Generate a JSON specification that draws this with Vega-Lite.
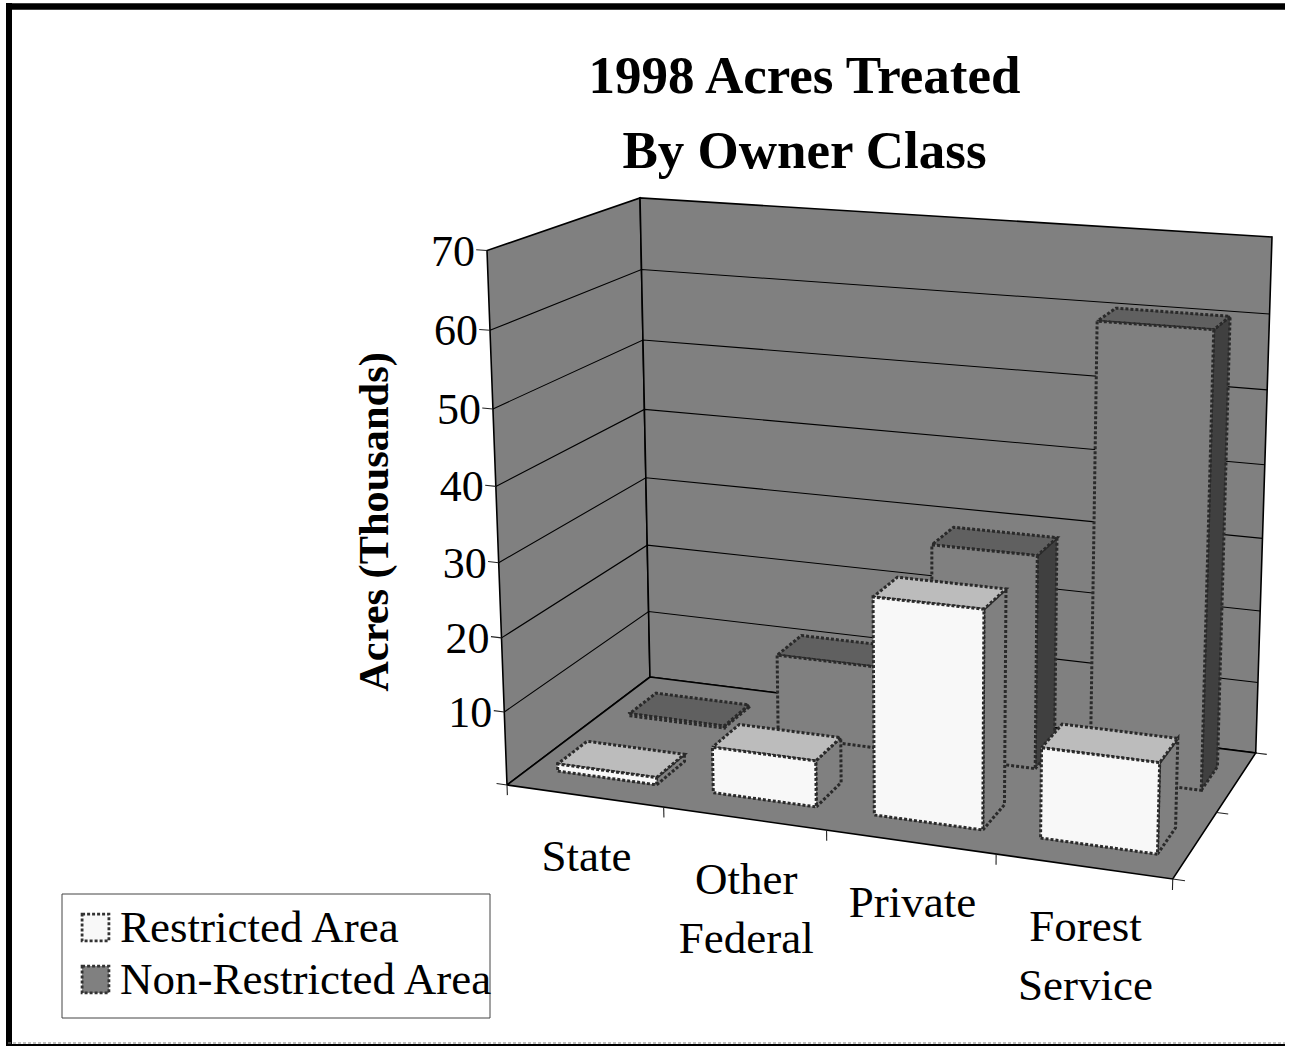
{"$schema":"https://vega.github.io/schema/vega-lite/v6.json","width":1295,"height":1046,"padding":0,"autosize":{"type":"none"},"background":"white","view":{"stroke":null},
"title":{"text":["1998 Acres Treated","By Owner Class"],"font":"Liberation Serif","fontWeight":"bold","fontSize":53,"lineHeight":75,"color":"black","anchor":"middle","frame":"group","align":"center","baseline":"top","dx":157,"dy":179,"offset":0},
"data":{"values":[
{"kind":"surface","part":"left"},{"kind":"surface","part":"back"},{"kind":"surface","part":"floor"},
{"kind":"grid","acres":10},{"kind":"grid","acres":20},{"kind":"grid","acres":30},{"kind":"grid","acres":40},{"kind":"grid","acres":50},{"kind":"grid","acres":60},
{"kind":"ytick","acres":0},{"kind":"ytick","acres":10},{"kind":"ytick","acres":20},{"kind":"ytick","acres":30},{"kind":"ytick","acres":40},{"kind":"ytick","acres":50},{"kind":"ytick","acres":60},{"kind":"ytick","acres":70},
{"kind":"xtick","slot":0},{"kind":"xtick","slot":1},{"kind":"xtick","slot":2},{"kind":"xtick","slot":3},{"kind":"xtick","slot":4},
{"kind":"ztick","step":0},{"kind":"ztick","step":0.5},{"kind":"ztick","step":1},
{"kind":"xlabel","slot":0,"label":"State"},{"kind":"xlabel","slot":1,"label":"Other\nFederal"},{"kind":"xlabel","slot":2,"label":"Private"},{"kind":"xlabel","slot":3,"label":"Forest\nService"},
{"kind":"bar","owner":"State","slot":0,"row":1,"series":"Non-Restricted Area","acres":0.3},
{"kind":"bar","owner":"Other Federal","slot":1,"row":1,"series":"Non-Restricted Area","acres":11.5},
{"kind":"bar","owner":"Private","slot":2,"row":1,"series":"Non-Restricted Area","acres":29.3},
{"kind":"bar","owner":"Forest Service","slot":3,"row":1,"series":"Non-Restricted Area","acres":60.7},
{"kind":"bar","owner":"State","slot":0,"row":0,"series":"Restricted Area","acres":1},
{"kind":"bar","owner":"Other Federal","slot":1,"row":0,"series":"Restricted Area","acres":6.2},
{"kind":"bar","owner":"Private","slot":2,"row":0,"series":"Restricted Area","acres":28.7},
{"kind":"bar","owner":"Forest Service","slot":3,"row":0,"series":"Restricted Area","acres":11.8},
{"kind":"note","label":"Acres (Thousands)"},
{"kind":"box"},{"kind":"frameTop"},{"kind":"frameLeft"},{"kind":"frameBottom"},{"kind":"frameBase"}
]},
"transform":[
{"calculate":"datum.kind=='bar'?['side','top','front']:[datum.kind]","as":"face"},
{"flatten":["face"]},
{"calculate":"(datum.slot+0.18-0.0006*datum.slot*datum.slot*datum.slot)/4","as":"uL"},
{"calculate":"(datum.slot+0.82+0.0006*datum.slot*datum.slot*datum.slot)/4","as":"uR"},
{"calculate":"datum.row==1?0.65:0.15","as":"dF"},
{"calculate":"datum.row==1?0.85:0.35","as":"dB"},
{"calculate":"datum.kind=='bar'?(datum.face=='side'?[[datum.uR,datum.dF,0],[datum.uR,datum.dB,0],[datum.uR,datum.dB,datum.acres],[datum.uR,datum.dF,datum.acres],[datum.uR,datum.dF,0]]:datum.face=='top'?[[datum.uL,datum.dF,datum.acres],[datum.uR,datum.dF,datum.acres],[datum.uR,datum.dB,datum.acres],[datum.uL,datum.dB,datum.acres],[datum.uL,datum.dF,datum.acres]]:[[datum.uL,datum.dF,0],[datum.uR,datum.dF,0],[datum.uR,datum.dF,datum.acres],[datum.uL,datum.dF,datum.acres],[datum.uL,datum.dF,0]]):datum.kind=='surface'?(datum.part=='left'?[[0,0,0],[0,1,0],[0,1,70],[0,0,70],[0,0,0]]:datum.part=='back'?[[0,1,0],[1,1,0],[1,1,70],[0,1,70],[0,1,0]]:[[0,0,0],[1,0,0],[1,1,0],[0,1,0],[0,0,0]]):datum.kind=='grid'?[[0,0,datum.acres],[0,1,datum.acres],[1,1,datum.acres]]:datum.kind=='ytick'?[[-0.017,0,datum.acres],[0,0,datum.acres]]:datum.kind=='xtick'?[[datum.slot/4,0,0],[datum.slot/4,0,-1.4]]:datum.kind=='ztick'?[[1,datum.step,0],[1.017,datum.step,0]]:[[(datum.slot+0.5)/4,0,0]]","as":"path"},
{"calculate":"[0,1,2,3,4]","as":"k"},
{"flatten":["path","k"]},
{"filter":"isValid(datum.path)"},
{"calculate":"datum.path[0]","as":"u"},
{"calculate":"datum.path[1]","as":"dp"},
{"calculate":"datum.path[2]/70","as":"h"},
{"calculate":"datum.h/(1+0.0533*(1-datum.h))","as":"g"},
{"calculate":"1-0.07677*datum.u+0.10958*datum.dp","as":"fw"},
{"calculate":"1-0.09155*datum.u+0.12135*datum.dp","as":"tw"},
{"calculate":"(507+575.7*datum.u+214.2*datum.dp)/datum.fw","as":"fx"},
{"calculate":"(785+26.5*datum.u-33.8*datum.dp)/datum.fw","as":"fy"},
{"calculate":"(487+592.2*datum.u+230.7*datum.dp)/datum.tw","as":"tx"},
{"calculate":"(250.5+22*datum.u-28.5*datum.dp)/datum.tw","as":"ty"},
{"calculate":"datum.fx+datum.g*(datum.tx-datum.fx)","as":"sx"},
{"calculate":"datum.fy+datum.g*(datum.ty-datum.fy)","as":"sy"},
{"calculate":"datum.kind+'|'+datum.part+'|'+datum.acres+'|'+datum.slot+'|'+datum.step+'|'+datum.row+'|'+datum.face","as":"pathId"},
{"calculate":"datum.face=='front'?datum.series:datum.series+' '+datum.face","as":"shade"}
],
"encoding":{
"x":{"field":"sx","type":"quantitative","scale":{"domain":[0,1295],"nice":false,"zero":false},"axis":null},
"y":{"field":"sy","type":"quantitative","scale":{"domain":[1046,0],"nice":false,"zero":false},"axis":null}
},
"layer":[
{"transform":[{"filter":"datum.kind=='surface'"}],"mark":{"type":"line","fill":"#808080","stroke":"black","strokeWidth":1.6,"strokeJoin":"miter"},"encoding":{"detail":{"field":"pathId"},"order":{"field":"k"}}},
{"transform":[{"filter":"datum.kind=='grid'"}],"mark":{"type":"line","stroke":"black","strokeWidth":1.1},"encoding":{"detail":{"field":"pathId"},"order":{"field":"k"}}},
{"transform":[{"filter":"datum.kind=='ytick'||datum.kind=='xtick'||datum.kind=='ztick'"}],"mark":{"type":"line","stroke":"#222222","strokeWidth":1.1},"encoding":{"detail":{"field":"pathId"},"order":{"field":"k"}}},
{"transform":[{"filter":"datum.kind=='bar'"}],"mark":{"type":"line","stroke":"#2a2a2a","strokeWidth":3,"strokeDash":[3,2],"strokeJoin":"miter"},"encoding":{
"detail":{"field":"pathId"},"order":{"field":"k"},
"fill":{"field":"shade","type":"nominal","title":null,"scale":{"domain":["Restricted Area","Non-Restricted Area","Restricted Area top","Restricted Area side","Non-Restricted Area top","Non-Restricted Area side"],"range":["#f8f8f8","#808080","#bcbcbc","#808080","#606060","#404040"]},
"legend":{"values":["Restricted Area","Non-Restricted Area"],"orient":"none","legendX":60,"legendY":892,"padding":13,"symbolType":"square","symbolSize":720,"symbolStrokeColor":"#333333","symbolStrokeWidth":2.8,"symbolDash":[3,2],"labelFont":"Liberation Serif","labelFontSize":45,"labelColor":"black","labelOffset":2,"labelLimit":500,"rowPadding":6}}}},
{"transform":[{"filter":"datum.kind=='box'"},{"calculate":"62","as":"sx"},{"calculate":"490","as":"sx2"},{"calculate":"894","as":"sy"},{"calculate":"1018","as":"sy2"}],"mark":{"type":"rect","fill":null,"stroke":"#444444","strokeWidth":1},"encoding":{"x2":{"field":"sx2"},"y2":{"field":"sy2"}}},
{"transform":[{"filter":"datum.kind=='ytick'&&datum.k==1&&datum.acres>0"}],"mark":{"type":"text","font":"Liberation Serif","fontSize":44,"align":"right","baseline":"middle","dx":-12,"dy":2,"color":"black"},"encoding":{"text":{"field":"acres","type":"quantitative"}}},
{"transform":[{"filter":"datum.kind=='xlabel'"}],"mark":{"type":"text","font":"Liberation Serif","fontSize":45,"align":"center","baseline":"alphabetic","dx":2,"dy":75,"lineBreak":"\n","lineHeight":59,"color":"black"},"encoding":{"text":{"field":"label"}}},
{"transform":[{"filter":"datum.kind=='note'"},{"calculate":"375","as":"sx"},{"calculate":"522","as":"sy"}],"mark":{"type":"text","font":"Liberation Serif","fontWeight":"bold","fontSize":42.4,"angle":270,"align":"center","baseline":"middle","color":"black"},"encoding":{"text":{"field":"label"}}},
{"transform":[{"filter":"datum.kind=='frameTop'"},{"calculate":"6","as":"sx"},{"calculate":"1285","as":"sx2"},{"calculate":"6.5","as":"sy"}],"mark":{"type":"rule","stroke":"black","strokeWidth":6.5},"encoding":{"x2":{"field":"sx2"}}},
{"transform":[{"filter":"datum.kind=='frameLeft'"},{"calculate":"9","as":"sx"},{"calculate":"3","as":"sy"},{"calculate":"1046","as":"sy2"}],"mark":{"type":"rule","stroke":"black","strokeWidth":6},"encoding":{"y2":{"field":"sy2"}}},
{"transform":[{"filter":"datum.kind=='frameBottom'"},{"calculate":"8","as":"sx"},{"calculate":"1285","as":"sx2"},{"calculate":"1043","as":"sy"}],"mark":{"type":"rule","stroke":"#888888","strokeWidth":1,"strokeDash":[3,2]},"encoding":{"x2":{"field":"sx2"}}},
{"transform":[{"filter":"datum.kind=='frameBase'"},{"calculate":"6","as":"sx"},{"calculate":"1285","as":"sx2"},{"calculate":"1045","as":"sy"}],"mark":{"type":"rule","stroke":"black","strokeWidth":2},"encoding":{"x2":{"field":"sx2"}}}
]}
